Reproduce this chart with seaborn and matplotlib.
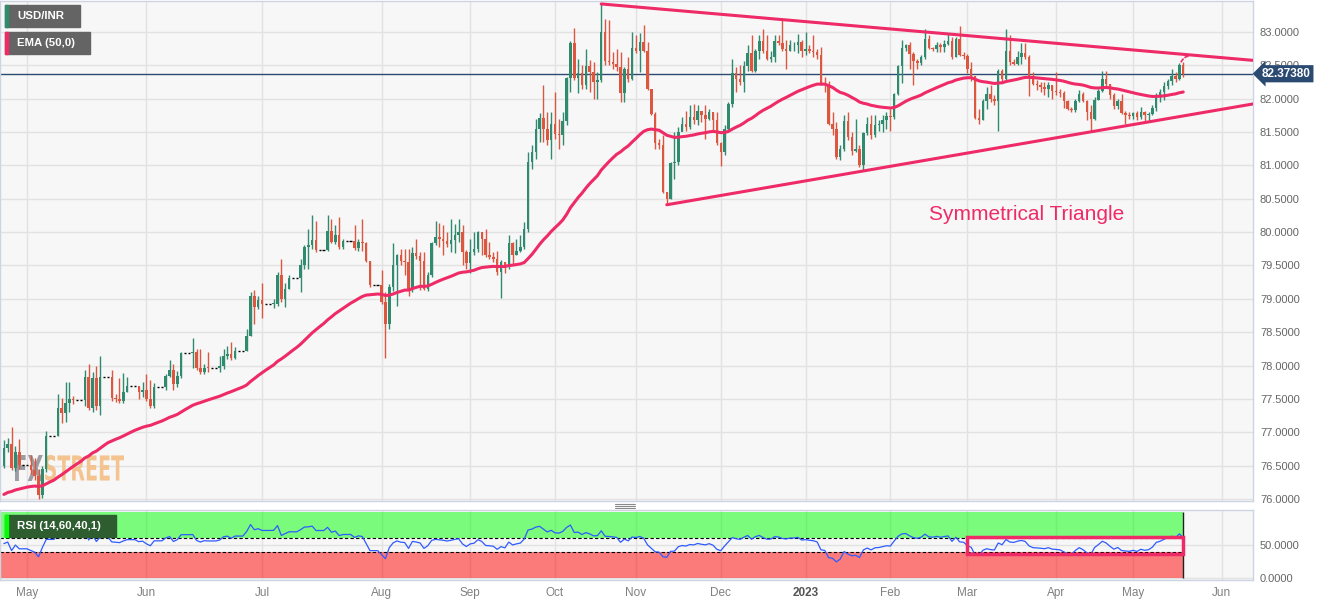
import matplotlib
matplotlib.use("Agg")
import matplotlib.pyplot as plt
import matplotlib.transforms as mtransforms
from matplotlib.patches import Rectangle, PathPatch
from matplotlib.lines import Line2D
from matplotlib.textpath import TextPath
from matplotlib.font_manager import FontProperties
from matplotlib.ticker import FormatStrFormatter
import numpy as np
import pandas as pd
import seaborn as sns

sns.set_theme(style="white")
plt.rcParams["font.family"] = ["Liberation Sans", "DejaVu Sans"]

# USD/INR daily candles, trading days 2022-04-25 .. 2023-05-18 (open = previous close)
first_open = 76.50
closes = [
    76.76, 76.82, 76.47, 76.70, 76.51,                      # Apr 25-29
    76.43, 76.34, 76.06, 76.45, 76.95, 77.36, 77.29, 77.44, 77.50, 77.48,
    77.83, 77.36, 77.82, 77.40, 77.83, 77.52, 77.50, 77.47, 77.60, 77.70,
    77.60, 77.63,                                            # May
    77.50, 77.40, 77.68, 77.85, 77.94, 77.73, 77.84, 78.19, 78.20, 77.97,
    77.90, 77.97, 77.96, 78.00, 78.15, 78.18, 78.12, 78.22, 78.45, 79.05,
    78.88, 78.98,                                            # Jun
    78.92, 78.93, 79.36, 79.00, 79.15, 79.31, 79.50, 79.77, 79.80, 79.88,
    79.73, 80.02, 79.85, 79.95, 79.78, 79.86, 79.76, 79.85, 79.83, 79.57,
    79.20,                                                   # Jul
    78.95, 78.63, 79.17, 79.50, 79.65, 79.57, 79.55, 79.15, 79.68, 79.64,
    79.57, 79.15, 79.35, 79.83, 79.93, 79.90, 79.87, 79.82, 79.88, 79.95,
    80.00, 79.70, 79.53,                                     # Aug
    79.70, 79.75, 80.00, 79.90, 79.65, 79.63, 79.60, 79.40, 79.55, 79.47,
    79.83, 79.65, 79.72, 79.77, 80.05, 81.05, 81.20, 81.55, 81.71, 81.55,
    81.38, 81.62,                                            # Sep
    81.47, 81.45, 81.67, 82.31, 82.84, 82.31, 82.38, 82.20, 82.49, 82.40,
    82.25, 82.28, 83.00, 82.57, 82.55, 82.52, 82.48, 82.09, 82.45, 82.30,
    82.76,                                                   # Oct
    82.72, 82.85, 82.72, 82.15, 81.77, 81.34, 81.30, 80.60, 80.50, 81.03,
    81.05, 81.50, 81.62, 81.57, 81.72, 81.68, 81.82, 81.75, 81.70, 81.80,
    81.68, 81.33,                                            # Nov
    81.20, 81.55, 81.92, 82.39, 82.30, 82.25, 82.49, 82.69, 82.42, 82.72,
    82.87, 82.72, 82.60, 82.62, 82.86, 82.84, 82.75, 82.72, 82.80, 82.80,
    82.85, 82.72,                                            # Dec
    82.75, 82.72, 82.70, 82.65, 82.24, 82.20, 81.62, 81.55, 81.12, 81.25,
    81.67, 81.42, 81.22, 81.25, 81.00, 81.48, 81.62, 81.45, 81.60, 81.62,
    81.68, 81.74,                                            # Jan
    81.72, 82.07, 82.49, 82.76, 82.80, 82.67, 82.57, 82.53, 82.62, 82.90,
    82.76, 82.74, 82.81, 82.77, 82.82, 82.86, 82.62, 82.90, 82.66, 82.64,  # Feb
    82.45, 82.34, 81.71, 81.68, 81.97, 82.07, 82.00, 81.97, 82.42, 82.30,
    82.72, 82.55, 82.52, 82.62, 82.68, 82.62, 82.34, 82.22, 82.20, 82.18,
    82.15, 82.20, 82.12,                                     # Mar
    82.10, 82.08, 81.97, 81.85, 81.83, 81.96, 82.07, 81.97, 81.80, 81.70,
    81.98, 82.12, 82.30, 82.22, 82.05, 81.89, 81.97, 81.79, 81.76, 81.74,  # Apr
    81.78, 81.72, 81.80, 81.75, 81.77, 81.86, 82.05, 82.10, 82.19, 82.27,
    82.34, 82.30, 82.50, 82.3738,                            # May
]
highs = [
    76.88, 76.92, 77.08, 76.80, 76.90,
    76.66, 76.62, 76.45, 76.50, 77.02, 77.58, 77.51, 77.75, 77.75, 77.55,
    77.93, 78.03, 77.90, 78.00, 78.14, 77.93, 77.58, 77.82, 77.89, 77.83,
    77.68, 77.76,
    77.87, 77.78, 77.74, 77.88, 78.08, 78.03, 77.92, 78.21, 78.42, 78.25,
    78.25, 78.02, 78.20, 78.15, 78.25, 78.30, 78.36, 78.28, 78.55, 79.10,
    79.13, 79.05,
    79.23, 79.00, 79.40, 79.59, 79.23, 79.35, 79.60, 79.80, 80.05, 80.25,
    80.17, 80.25, 80.20, 80.10, 80.23, 79.90, 80.10, 79.90, 80.20, 79.85,
    79.57,
    79.43, 79.10, 79.22, 79.83, 79.67, 79.75, 79.75, 79.75, 79.78, 79.90,
    79.70, 79.70, 79.40, 79.85, 80.16, 80.13, 80.10, 80.00, 80.20, 80.12,
    80.20, 80.10, 79.73,
    79.90, 80.00, 80.02, 80.00, 80.05, 79.85, 79.70, 79.72, 79.58, 79.55,
    79.95, 79.85, 79.90, 79.95, 80.15, 81.20, 81.30, 81.70, 81.78, 82.20,
    81.80, 81.80,
    82.10, 81.70, 81.80, 82.33, 82.87, 83.06, 82.60, 82.50, 82.75, 82.58,
    82.55, 82.40, 83.42, 83.20, 83.18, 82.70, 82.75, 82.70, 82.48, 82.62,
    83.00,
    82.95, 82.98, 83.10, 82.85, 82.15, 81.80, 81.40, 81.45, 80.60, 81.05,
    81.50, 81.58, 81.72, 81.82, 81.90, 81.92, 81.90, 81.80, 81.90, 81.85,
    81.80, 81.80,
    81.35, 81.60, 81.95, 82.60, 82.48, 82.50, 82.57, 82.80, 82.95, 82.75,
    82.95, 83.05, 82.95, 82.72, 82.95, 82.95, 83.19, 82.88, 82.88, 82.85,
    82.97, 82.88,
    83.00, 82.80, 82.95, 82.75, 82.78, 82.33, 82.27, 81.80, 81.65, 81.30,
    81.75, 81.80, 81.50, 81.70, 81.30, 81.50, 81.72, 81.75, 81.75, 81.68,
    81.75, 81.80,
    81.85, 82.08, 82.50, 82.88, 82.82, 82.85, 82.70, 82.60, 82.65, 83.04,
    82.95, 82.78, 82.85, 82.84, 82.88, 82.97, 82.92, 82.92, 83.09, 82.70,
    82.67, 82.55, 82.34, 81.85, 81.99, 82.17, 82.20, 82.05, 82.45, 82.45,
    83.04, 82.96, 82.60, 82.72, 82.84, 82.84, 82.65, 82.40, 82.28, 82.25,
    82.25, 82.25, 82.20,
    82.40, 82.15, 82.12, 81.98, 81.88, 82.00, 82.13, 82.10, 81.98, 81.90,
    82.02, 82.15, 82.42, 82.42, 82.22, 82.08, 82.00, 82.07, 81.82, 81.80,
    81.80, 81.82, 81.88, 81.82, 81.80, 81.90, 82.08, 82.15, 82.25, 82.30,
    82.45, 82.40, 82.54, 82.55,
]
lows = [
    76.46, 76.70, 76.44, 76.42, 76.45,
    76.38, 76.28, 76.00, 76.02, 76.40, 76.95, 77.14, 77.15, 77.30, 77.42,
    77.40, 77.34, 77.30, 77.33, 77.26, 77.47, 77.45, 77.44, 77.44, 77.60,
    77.50, 77.53,
    77.47, 77.36, 77.37, 77.64, 77.83, 77.63, 77.68, 77.82, 77.97, 77.94,
    77.87, 77.88, 77.90, 77.90, 77.95, 78.10, 78.08, 78.10, 78.22, 78.44,
    78.63, 78.85,
    78.71, 78.86, 78.90, 78.95, 78.88, 79.15, 79.10, 79.45, 79.45, 79.75,
    79.70, 79.72, 79.83, 79.82, 79.75, 79.75, 79.73, 79.72, 79.72, 79.55,
    79.18,
    78.93, 78.11, 78.55, 79.12, 78.90, 79.50, 79.35, 79.05, 79.10, 79.60,
    79.13, 79.13, 79.12, 79.33, 79.80, 79.77, 79.65, 79.78, 79.70, 79.68,
    79.85, 79.50, 79.45,
    79.38, 79.65, 79.70, 79.65, 79.63, 79.60, 79.55, 79.35, 79.02, 79.38,
    79.45, 79.50, 79.66, 79.70, 79.75, 80.00, 80.95, 81.10, 81.35, 81.35,
    81.30, 81.10,
    81.40, 81.25, 81.30, 81.60, 82.10, 82.28, 82.08, 82.15, 82.15, 82.10,
    82.00, 82.00, 82.25, 82.50, 82.50, 82.45, 82.42, 81.95, 81.95, 82.25,
    82.28,
    82.68, 82.40, 82.70, 82.13, 81.75, 81.25, 81.25, 80.58, 80.42, 80.50,
    80.80, 81.00, 81.52, 81.52, 81.55, 81.62, 81.60, 81.65, 81.40, 81.68,
    81.50, 81.30,
    80.99, 81.15, 81.50, 81.88, 82.10, 82.20, 82.10, 82.42, 82.40, 82.40,
    82.60, 82.68, 82.58, 82.55, 82.55, 82.80, 82.72, 82.45, 82.72, 82.72,
    82.68, 82.62,
    82.65, 82.68, 82.63, 82.60, 82.20, 82.10, 81.60, 81.45, 81.10, 81.08,
    81.22, 81.38, 81.15, 81.20, 80.97, 80.92, 81.45, 81.40, 81.42, 81.52,
    81.50, 81.55,
    81.52, 81.70, 82.05, 82.24, 82.72, 82.45, 82.20, 82.45, 82.50, 82.60,
    82.74, 82.72, 82.70, 82.70, 82.70, 82.80, 82.60, 82.63, 82.64, 82.60,
    82.38, 82.26, 81.70, 81.62, 81.68, 81.85, 81.95, 81.90, 81.52, 82.25,
    82.28, 82.50, 82.50, 82.50, 82.52, 82.60, 82.04, 82.20, 82.13, 82.10,
    82.05, 82.02, 82.00,
    82.05, 82.03, 81.86, 81.83, 81.80, 81.80, 81.95, 81.95, 81.68, 81.52,
    81.68, 81.98, 82.10, 82.18, 82.00, 81.85, 81.85, 81.77, 81.62, 81.70,
    81.70, 81.68, 81.70, 81.65, 81.65, 81.75, 81.82, 81.95, 81.98, 82.15,
    82.20, 82.25, 82.28, 82.33,
]
last_price = 82.3738
ema_seed = 76.04                      # EMA value just before the first bar
rsi_seed_gain, rsi_seed_loss = 0.050, 0.046

# annotations drawn on the chart
trend_upper = [("2022-10-19", 83.42), ("2023-06-13", 82.575)]
trend_lower = [("2022-11-11", 80.41), ("2023-06-13", 81.92)]
rsi_box = ("2023-03-01", "2023-05-18", 36, 62)

GREEN, RED, PINK, NAVY = "#2F8A6E", "#DD5740", "#EE2A67", "#2B4A72"
W, H = 1328, 605


def fx(px):
    return px / W


def fy(py):
    return 1 - py / H


# ---- build bar table: calendar days until end of July, business days after
trade_days = pd.bdate_range("2022-04-25", "2023-05-18")
ohlc = pd.DataFrame({"close": closes, "high": highs, "low": lows}, index=trade_days)
ohlc["open"] = [first_open] + closes[:-1]
cal = pd.date_range("2022-04-25", "2022-07-31").append(pd.bdate_range("2022-08-01", "2023-05-18"))
bars = ohlc.reindex(cal)
weekend = bars["close"].isna().values
bars["close"] = bars["close"].ffill()
for col in ["open", "high", "low"]:
    bars.loc[weekend, col] = bars.loc[weekend, "close"]
bars["pos"] = np.arange(len(bars))

axis_days = cal.append(pd.bdate_range("2023-05-19", "2023-06-30"))


def dpos(d):
    return axis_days.get_loc(pd.Timestamp(d))


month_pos, month_lab = [], []
for i in range(1, len(axis_days)):
    if axis_days[i].month != axis_days[i - 1].month:
        month_pos.append(i)
        month_lab.append(str(axis_days[i].year) if axis_days[i].month == 1 else axis_days[i].strftime("%b"))

# indicators
ema = pd.Series(np.r_[ema_seed, bars["close"].values]).ewm(span=50, adjust=False).mean().values[1:]
delta = bars["close"].diff().fillna(0).values
g = pd.Series(np.r_[rsi_seed_gain, np.clip(delta, 0, None)]).ewm(alpha=1 / 14, adjust=False).mean().values[1:]
l = pd.Series(np.r_[rsi_seed_loss, np.clip(-delta, 0, None)]).ewm(alpha=1 / 14, adjust=False).mean().values[1:]
rsi = 100 - 100 / (1 + g / l)

# ---- figure
fig = plt.figure(figsize=(W / 100, H / 100), dpi=100)
fig.patch.set_facecolor("white")
ax = fig.add_axes([0, fy(501), fx(1253), fy(1) - fy(501)])
axr = fig.add_axes([0, fy(580), fx(1253), fy(510) - fy(580)], sharex=ax)

for a in (ax, axr):
    a.set_facecolor("#F7F7F7")
    a.set_axisbelow(True)
    a.grid(True, color="#E2E2E2", lw=1)
    for s in a.spines.values():
        s.set_color("#CCD4E4")
        s.set_linewidth(1)
    a.yaxis.tick_right()
    a.yaxis.set_major_formatter(FormatStrFormatter("%.4f"))
    a.tick_params(axis="y", length=0, pad=5, labelsize=8, labelcolor="#666666")

# candles
p = bars["pos"].values
o, c = bars["open"].values, bars["close"].values
hi, lo = bars["high"].values, bars["low"].values
up = (c >= o) & ~weekend
dn = (c < o) & ~weekend
for mask, col in [(up, GREEN), (dn, RED)]:
    ax.vlines(p[mask], lo[mask], hi[mask], color=col, lw=1, zorder=2)
    ax.bar(p[mask], np.maximum(np.abs(c - o)[mask], 0.012), bottom=np.minimum(o, c)[mask],
           width=0.64, color=col, lw=0, zorder=2.1)
ax.hlines(c[weekend], p[weekend] - 0.33, p[weekend] + 0.33, color="black", lw=1, zorder=2)

sns.lineplot(x=p, y=ema, ax=ax, color=PINK, lw=2.2, zorder=3)
ax.axhline(last_price, color=NAVY, lw=1, zorder=1.5)

for pts in (trend_upper, trend_lower):
    ax.plot([dpos(pts[0][0]), dpos(pts[1][0])], [pts[0][1], pts[1][1]], color=PINK, lw=2.2,
            solid_capstyle="round", zorder=3)

ax.annotate("", xy=(p[-1] + 2.5, last_price + 0.27), xytext=(p[-1] - 0.8, last_price + 0.14),
            arrowprops=dict(arrowstyle="-", color=PINK, lw=1.2, linestyle=(0, (2, 1.5)),
                            connectionstyle="arc3,rad=-0.4"), zorder=3)

ax.text(0.8196, 0.573, "Symmetrical Triangle", transform=ax.transAxes, color=PINK,
        fontsize=15, ha="center", va="center")

ax.set_xlim(-1, 324.1)
ax.set_ylim(75.97, 83.464)
ax.set_yticks(np.arange(76.0, 83.01, 0.5))
ax.set_xticks(month_pos)
ax.tick_params(axis="x", length=0, labelbottom=False)
ax.set_xlabel("")
ax.set_ylabel("")

# price tag
tr = mtransforms.blended_transform_factory(ax.transAxes, ax.transData)
ax.text(1262 / 1253, last_price, "82.37380", transform=tr, color="white", fontsize=8.5,
        weight="bold", va="center", ha="left", clip_on=False, zorder=5,
        bbox=dict(boxstyle="larrow,pad=0.22", fc=NAVY, ec="none"))

# watermark
def stretched_text(a, s, box, color):
    x0, y0, x1, y1 = box
    path = TextPath((0, 0), s, size=10,
                    prop=FontProperties(family=["Liberation Sans Narrow", "DejaVu Sans"], weight="bold"))
    ext = path.get_extents()
    t = (mtransforms.Affine2D().translate(-ext.x0, -ext.y0)
         .scale((x1 - x0) / ext.width, (y1 - y0) / ext.height).translate(x0, H - y1))
    a.add_artist(PathPatch(path, transform=t, fc=color, ec="none", zorder=0.6))


stretched_text(ax, "FX", (15, 455, 43, 481), "#9C9CA2")
stretched_text(ax, "STREET", (45, 455, 124, 481), "#F3C48F")

# RSI panel
last = p[-1]
axr.fill_between([-1, last], 60, 100, color="#00FF00", alpha=0.5, lw=0, zorder=1)
axr.fill_between([-1, last], 0, 40, color="#FF0000", alpha=0.5, lw=0, zorder=1)
axr.hlines([60, 40], -1, last, colors="black", lw=0.8, linestyles=(0, (3, 2)), zorder=2)
axr.vlines(last, 0, 100, color="#202020", lw=1, zorder=2)
sns.lineplot(x=p, y=rsi, ax=axr, color="#2E5BFF", lw=0.9, zorder=3)
b0, b1 = dpos(rsi_box[0]), dpos(rsi_box[1])
axr.add_patch(Rectangle((b0, rsi_box[2]), b1 - b0, rsi_box[3] - rsi_box[2], fill=False,
                        ec=PINK, lw=2.5, zorder=4))
axr.set_ylim(-2.5, 102.5)
axr.set_yticks([0, 50])
axr.set_xticks(month_pos)
axr.set_xticklabels(month_lab)
axr.tick_params(axis="x", length=0, pad=5, labelsize=8.5, labelcolor="#808080")
for t in axr.get_xticklabels():
    if t.get_text() == "2023":
        t.set_fontweight("bold")
        t.set_color("#555555")
axr.set_xlabel("")
axr.set_ylabel("")

# legend tags top-left
def label_box(x0, y0, x1, y1, accent, face, text):
    fig.add_artist(Rectangle((fx(x0), fy(y1)), fx(x1 - x0), (y1 - y0) / H,
                             transform=fig.transFigure, color=face, zorder=5))
    fig.add_artist(Rectangle((fx(x0), fy(y1)), fx(3), (y1 - y0) / H,
                             transform=fig.transFigure, color=accent, zorder=6))
    fig.text(fx(x0 + 12), fy((y0 + y1) / 2), text, color="white", weight="bold",
             fontsize=8.2, va="center", ha="left", zorder=7)


label_box(5, 5, 80, 27, GREEN, "#646464", "USD/INR")
label_box(5, 32, 90, 54, PINK, "#646464", "EMA (50,0)")
label_box(5, 515, 116, 537, "#00FF00", "#2E5E30", "RSI (14,60,40,1)")

# panel grip
for yy in (504, 506, 508):
    fig.add_artist(Line2D([fx(615), fx(635)], [fy(yy), fy(yy)], transform=fig.transFigure,
                          color="#8A8A8A", lw=0.8))

fig.savefig("out.png", dpi=100)
